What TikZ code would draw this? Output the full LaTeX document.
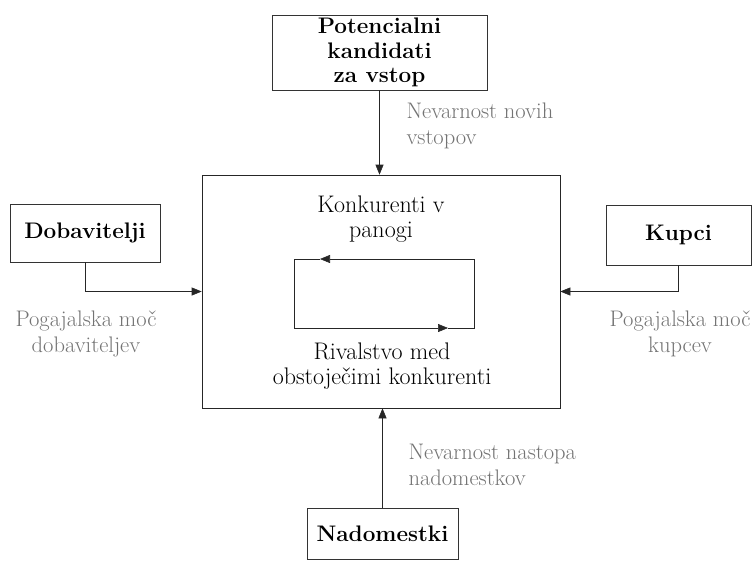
\documentclass[tikz,border=0pt]{standalone}
\usepackage{tikz}
\usetikzlibrary{arrows.meta}
\begin{document}
\begin{tikzpicture}[x=1pt,y=-1pt,
    box/.style={draw=black!80,line width=0.6pt,align=center,inner sep=0pt,font=\fontsize{22.5}{24.5}\selectfont\bfseries},
    txt/.style={align=center,font=\fontsize{24}{25}\selectfont},
    lbl/.style={text=black!55,font=\fontsize{22.5}{25.5}\selectfont},
    link/.style={draw=black!85,line width=0.6pt},
    arr/.style={link,-{Triangle[length=10pt,width=8pt]}}]
    \useasboundingbox (0,0) rectangle (752,560);
    \node[box,minimum width=215pt,minimum height=75pt] (pot) at (379.5,52.5) {Potencialni\\kandidati\\za vstop};
    \node[draw=black!85,line width=0.6pt,minimum width=358pt,minimum height=233pt,inner sep=0pt] (konk) at (381,291.5) {};
    \node[txt] (konkt) at (381,219) {Konkurenti v\\panogi};
    \node[txt] (rival) at (382,366) {Rivalstvo med\\obstoječimi konkurenti};
    \node[box,minimum width=150pt,minimum height=58pt] (dob) at (85,233) {Dobavitelji};
    \node[box,minimum width=145pt,minimum height=60pt] (kup) at (678.5,235) {Kupci};
    \node[box,minimum width=151pt,minimum height=51pt] (nad) at (382.5,533.5) {Nadomestki};
    \coordinate (lpNW) at (294,259);
    \coordinate (lpNE) at (474,259);
    \coordinate (lpSW) at (294,328);
    \coordinate (lpSE) at (474,328);
    \coordinate (tipT) at (320,259);
    \coordinate (tipB) at (448,328);
    \draw[arr] (lpNE) -- (tipT);
    \draw[arr] (tipT) -- (lpNW) -- (lpSW) -- (tipB);
    \draw[link] (tipB) -- (lpSE) -- (lpNE);
    \draw[arr] (pot.south) -- (pot.south |- konk.north);
    \draw[arr] (dob.south) |- (konk.west);
    \draw[arr] (kup.south) |- (konk.east);
    \draw[arr] (nad.north) -- (nad.north |- konk.south);
    \node[lbl,align=left,anchor=west] (novi) at (403,126) {Nevarnost novih\\vstopov};
    \node[lbl,align=center] (dobl) at (86,334) {Pogajalska moč\\dobaviteljev};
    \node[lbl,align=center] (kupl) at (680,334) {Pogajalska moč\\kupcev};
    \node[lbl,align=left,anchor=west] (nado) at (405,465) {Nevarnost nastopa\\nadomestkov};
\end{tikzpicture}
\end{document}
